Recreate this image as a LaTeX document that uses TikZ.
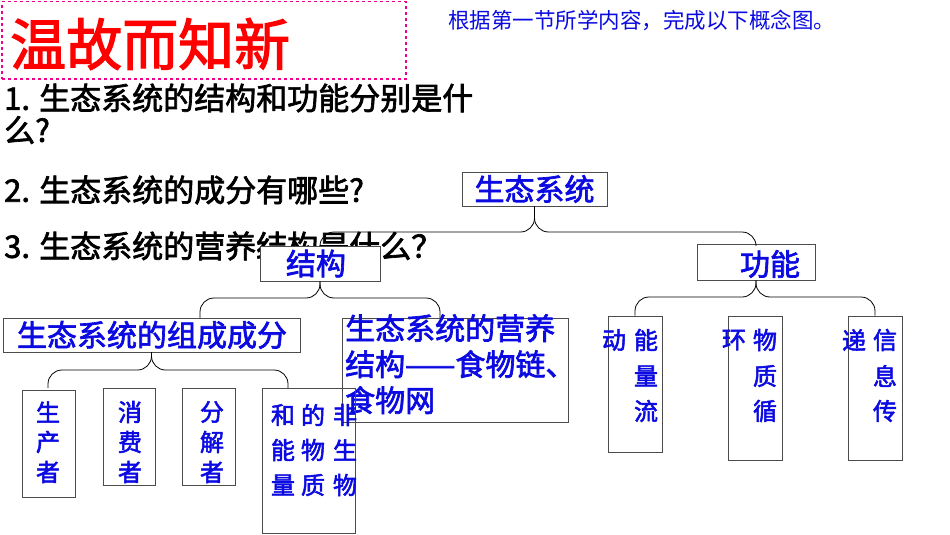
\documentclass[tikz,border=0pt]{standalone}
\usepackage{fontspec}
\setmainfont{Noto Sans CJK SC}[FakeBold=2.2]
\newfontfamily\hintfont{Noto Sans CJK SC}
\definecolor{myblue}{RGB}{10,10,225}
\begin{document}
\begin{tikzpicture}[x=1pt,y=-1pt,
  box/.style={draw=black!70,line width=0.9pt,inner sep=0pt},
  bt/.style={text=myblue,font=\fontsize{30}{32}\selectfont,inner sep=0pt},
  vc/.style={text=myblue,font=\fontsize{24}{26}\selectfont,inner sep=0pt},
  q/.style={anchor=west,font=\fontsize{31}{33}\selectfont,inner sep=0pt},
  br/.style={draw=black,line width=0.8pt,rounded corners=14pt}]
\useasboundingbox (0,0) rectangle (950,535);
\fill[white] (0,0) rectangle (950,535);
% title
\node[draw=magenta,dashed,line width=1.5pt,minimum width=404pt,minimum height=77pt,anchor=north west] (tb) at (1,1) {};
\node[anchor=west,text=red,font=\fontsize{56}{58}\selectfont,inner sep=0pt] (tt) at (10,44) {温故而知新};
\node[anchor=west,text=myblue,font=\hintfont\fontsize{21.5}{23}\selectfont,inner sep=0pt] (hint) at (448,20) {根据第一节所学内容，完成以下概念图。};
% questions
\node[q] (q1) at (4,98) {1. 生态系统的结构和功能分别是什};
\node[q] (q1b) at (4,130) {么?};
\node[q] (q2) at (4,190) {2. 生态系统的成分有哪些?};
\node[q] (q3) at (4,246) {3. 生态系统的营养结构是什么？};
% boxes
\node[box,fill=white,minimum width=145pt,minimum height=34pt] (eco) at (534.5,189) {};
\node[bt] at (534.5,189) {生态系统};
\node[box,fill=white,minimum width=118pt,minimum height=36pt] (gn) at (756,262) {};
\node[bt] at (770,264) {功能};
\node[box,minimum width=297pt,minimum height=34pt] (zc) at (151.5,335) {};
\node[bt] at (152,335) {生态系统的组成成分};
\node[box,minimum width=226pt,minimum height=104pt] (yy) at (455,370) {};
\node[bt,anchor=north west,align=left,font=\fontsize{30}{36}\selectfont] (yyt) at (345,314) {生态系统的营养\\结构——食物链、\\食物网};
% small boxes
\node[box,minimum width=53pt,minimum height=107pt] (sc) at (48.5,443.5) {};
\node[box,minimum width=52pt,minimum height=97pt] (xf) at (129,436.5) {};
\node[box,minimum width=53pt,minimum height=97pt] (fj) at (208.5,436.5) {};
\node[box,minimum width=93pt,minimum height=145pt] (fs) at (308.5,460.5) {};
\node[vc] at (48,412) {生}; \node[vc] at (48,442) {产}; \node[vc] at (48,472) {者};
\node[vc] at (130,412) {消}; \node[vc] at (130,442) {费}; \node[vc] at (130,472) {者};
\node[vc] at (212,412) {分}; \node[vc] at (212,442) {解}; \node[vc] at (212,472) {者};
\node[vc] at (283,415) {和}; \node[vc] at (313,415) {的}; \node[vc] at (345,415) {非};
\node[vc] at (283,450) {能}; \node[vc] at (313,450) {物}; \node[vc] at (345,450) {生};
\node[vc] at (283,485) {量}; \node[vc] at (313,485) {质}; \node[vc] at (345,485) {物};
\node[box,minimum width=54pt,minimum height=136pt] (nl) at (635,384) {};
\node[box,minimum width=54pt,minimum height=144pt] (wz) at (755,388) {};
\node[box,minimum width=54pt,minimum height=144pt] (xx) at (875,388) {};
\node[vc] at (614,340) {动}; \node[vc] at (646,340) {能}; \node[vc] at (646,376) {量}; \node[vc] at (646,411) {流};
\node[vc] at (734,340) {环}; \node[vc] at (765,340) {物}; \node[vc] at (765,376) {质}; \node[vc] at (765,411) {循};
\node[vc] at (854,340) {递}; \node[vc] at (885,340) {信}; \node[vc] at (885,376) {息}; \node[vc] at (885,411) {传};
% 结构 box, covering part of question 3 as in the reference
\node[box,fill=white,minimum width=120pt,minimum height=35pt] (jg) at (320,263.5) {};
\node[bt] (jgt) at (316,263.5) {结构};
% braces
\draw[br] (eco.south) |- (jg.north |- 0,232) -- (jg.north);
\draw[br] (eco.south) |- (gn.north |- 0,232) -- (gn.north);
\draw[br] (jg.south) |- (200,298) -- (200,318);
\draw[br] (jg.south) |- (440,298) -- (440,318);
\draw[br] (zc.south) |- (48,370) -- (48,388);
\draw[br] (zc.south) |- (288,370) -- (288,388);
\draw[br] (gn.south) |- (nl.north |- 0,297) -- (nl.north);
\draw[br] (gn.south) |- (xx.north |- 0,297) -- (xx.north);
\end{tikzpicture}
\end{document}
